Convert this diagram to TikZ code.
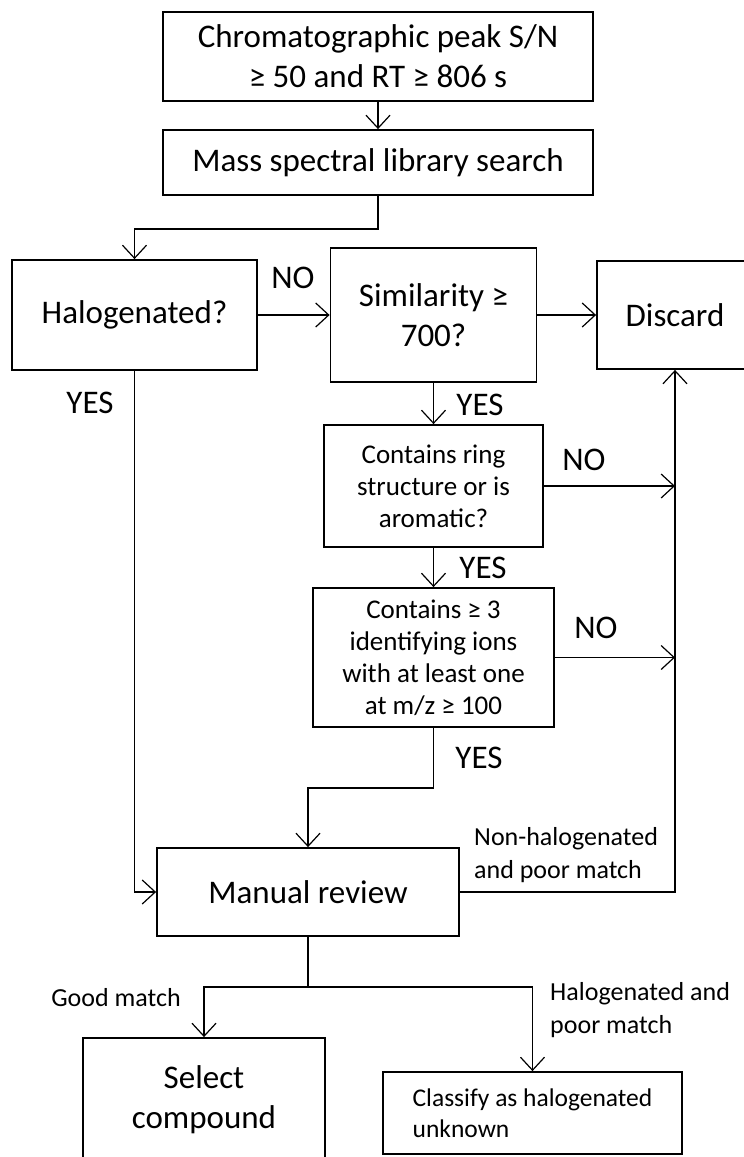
\documentclass[tikz,border=0pt]{standalone}
\usepackage{fontspec}
\setmainfont{Carlito}
\usetikzlibrary{arrows.meta,positioning}
\tikzset{
  % main boxes
  box/.style 2 args={
    draw, line width=1.8pt, align=center, inner sep=0pt,
    minimum width=#1pt, minimum height=#2pt,
    font=\fontsize{33}{40}\selectfont
  },
  % boxes with smaller text
  smallbox/.style 2 args={box={#1}{#2}, font=\fontsize{27}{32}\selectfont},
  % box with left aligned text
  notebox/.style 2 args={box={#1}{#2}, font=\fontsize{25.5}{31}\selectfont,
    align=left},
  % arrows
  arr/.style={-{Straight Barb[length=13pt,width=24pt]}, line width=1.2pt},
  line/.style={line width=1.2pt},
  % YES / NO labels
  yn/.style={inner sep=0pt, font=\fontsize{33}{40}\selectfont},
  % branch notes
  note/.style={inner sep=0pt, align=left, font=\fontsize{26}{33}\selectfont},
}
\begin{document}
\begin{tikzpicture}[x=1pt, y=-1pt]
  \useasboundingbox (0,0) rectangle (744,1157);
  \clip (0,0) rectangle (744,1157);

  % Boxes
  \node[box={430}{89}] (peak) at (378,56.5) {Chromatographic peak S/N\\≥ 50 and RT ≥ 806 s};
  \node[box={430}{65}] (search) at (378,162.5) {Mass spectral library search};
  \node[box={245}{110}] (halo) at (134.5,315) {Halogenated?};
  \node[box={206}{134}] (simil) at (433.5,315) {Similarity ≥\\700?};
  \node[box={156}{108}] (discard) at (675,315) {Discard};
  \node[smallbox={219}{122}] (ring) at (433.5,486) {Contains ring\\structure or is\\aromatic?};
  \node[smallbox={241}{139}] (ions) at (433.5,657.5) {Contains ≥ 3\\identifying ions\\with at least one\\at m/z ≥ 100};
  \node[box={302}{88}] (review) at (308,892) {Manual review};
  \node[box={242}{124}] (select) at (204,1100) {Select\\compound};
  \node[notebox={299}{82}] (classify) at (532.5,1113) {Classify as halogenated\\unknown};

  % Connectors
  \draw[arr] (peak) -- (search);
  \draw[arr] (search.south) -- ++(0,33) -| (halo.north);
  \draw[arr] (halo) -- (simil);
  \draw[arr] (simil) -- (discard);
  \draw[arr] (simil) -- (ring);
  \draw[arr] (ring) -- (ions);
  \draw[arr] (ring.east) -- (ring.east -| discard.south);
  \draw[arr] (ions.east) -- (ions.east -| discard.south);
  \draw[arr] (ions.south) -- ++(0,60) -| (review.north);
  \draw[arr] (halo.south) |- (review.west);
  \draw[arr] (review.east) -| (discard.south);
  \draw[line] (review.south) -- ++(0,50) coordinate (split);
  \draw[arr] (split) -| (select.north);
  \draw[arr] (split) -| (classify.north);

  % Labels
  \node[yn] (noHalo) at (293,278) {NO};
  \node[yn] (yesHalo) at (90,403) {YES};
  \node[yn] (yesSimil) at (480,405) {YES};
  \node[yn] (noRing) at (584,460) {NO};
  \node[yn] (yesRing) at (483,568) {YES};
  \node[yn] (noIons) at (596,628) {NO};
  \node[yn] (yesIons) at (479,758) {YES};
  \node[note, anchor=west] (poorNon) at (474,855.5) {Non-halogenated\\and poor match};
  \node[note] (good) at (116,998) {Good match};
  \node[note, anchor=west] (poorHalo) at (550,1010.5) {Halogenated and\\poor match};
\end{tikzpicture}
\end{document}
